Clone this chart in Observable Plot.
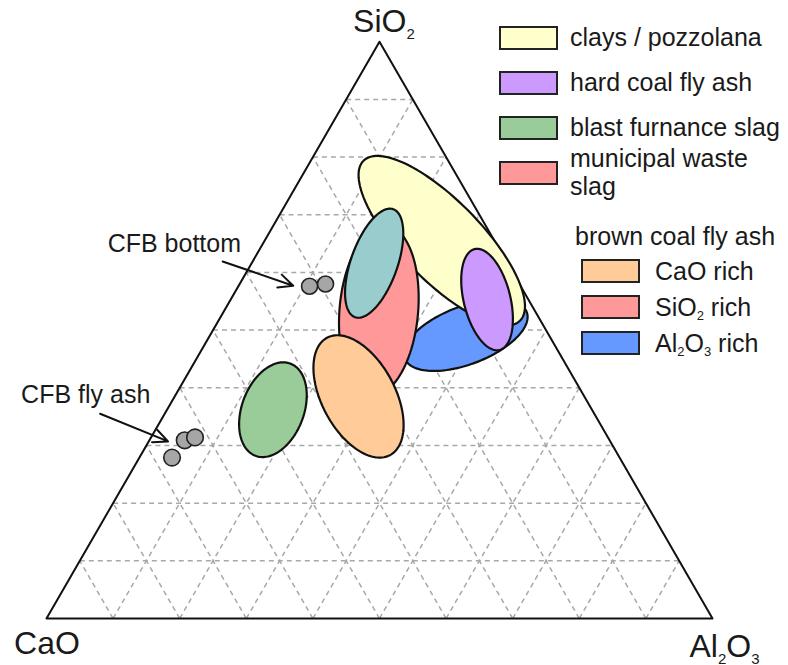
<!DOCTYPE html>
<html><head><meta charset="utf-8">
<script src="https://cdn.jsdelivr.net/npm/d3@7"></script>
<script src="https://cdn.jsdelivr.net/npm/@observablehq/plot@0.6"></script>
<style>
body{margin:0;background:#fff;font-family:"Liberation Sans",Arial,sans-serif;}
#wrap{position:relative;width:788px;height:665px;overflow:hidden;background:#fff}
#wrap svg{position:absolute;left:0;top:0}
.row{position:absolute;display:flex;align-items:center;height:60px}
.txt{position:absolute;font-size:25px;line-height:28px;color:#1a1a1a;white-space:nowrap}
.box{position:absolute;width:59px;height:24px;box-sizing:border-box;border:2px solid #222}
sub{font-size:13px;vertical-align:-4px;line-height:0}
</style></head><body><div id="wrap"></div>
<script>
// ---- data (ternary compositions in %, CaO / Al2O3 / SiO2) ----
const vertexLabels = ["CaO", "Al2O3", "SiO2"];
const vertexCaO   = [100, 0, 0];
const vertexAl2O3 = [0, 100, 0];
const vertexSiO2  = [0, 0, 100];
const gridLevels = [10, 20, 30, 40, 50, 60, 70, 80, 90];

// ellipse regions, in drawing order
const regionNames  = ["brown coal fly ash, Al2O3 rich", "clays / pozzolana", "hard coal fly ash", "municipal waste slag / SiO2 rich", "teal region", "brown coal fly ash, CaO rich", "blast furnance slag"];
const regionColors = ["#6699ff", "#ffffcc", "#cc99ff", "#ff9999", "#99cccc", "#ffcc99", "#99cc99"];
const regionCaO    = [12.5, 7.9, 6.2, 23.5, 19.9, 33.9, 47.9];
const regionAl2O3  = [38.4, 26.6, 38.5, 23.2, 18.4, 27.6, 15.9];
const regionSiO2   = [49.1, 65.5, 55.3, 53.4, 61.6, 38.5, 36.2];
const regionMajor  = [9.8, 16.8, 7.8, 12.8, 8.6, 10.0, 7.4];   // semi-axis, % of side
const regionMinor  = [4.35, 6.0, 3.5, 5.9, 3.5, 5.5, 4.65];
const regionAngle  = [20.8, -45.7, 103.9, 85, 70.5, 118.2, 69.2]; // degrees

// CFB samples
const cfbBottomCaO = [31.8, 29.1], cfbBottomAl2O3 = [10.7, 12.9], cfbBottomSiO2 = [57.6, 58.0];
const cfbFlyCaO = [67.2, 63.9, 61.9], cfbFlyAl2O3 = [4.9, 5.3, 6.6], cfbFlySiO2 = [27.9, 30.9, 31.4];

// annotations (arrow start -> arrow end)
const annotLabels = ["CFB bottom", "CFB fly ash"];
const annotStartCaO = [42.6, 74.1], annotStartAl2O3 = [-4.5, -9.7], annotStartSiO2 = [61.9, 35.5];
const annotEndCaO = [34.0, 66.3], annotEndAl2O3 = [8.2, 2.9], annotEndSiO2 = [57.7, 30.7];

// legends
const legendNames  = ["clays / pozzolana", "hard coal fly ash", "blast furnance slag", "municipal waste<br>slag"];
const legendColors = ["#ffffcc", "#cc99ff", "#99cc99", "#ff9999"];
const legend2Title = "brown coal fly ash";
const legend2Names = ["CaO rich", "SiO2 rich", "Al2O3 rich"];
const legend2Colors = ["#ffcc99", "#ff9999", "#6699ff"];

// ---- helpers ----
const H = Math.sqrt(3) / 2;
const tx = (al, si) => (al + si / 2) / 100;
const ty = (si) => si / 100 * H;

const vertices = vertexLabels.map((l, i) => ({label: l, x: tx(vertexAl2O3[i], vertexSiO2[i]), y: ty(vertexSiO2[i])}));

const grid = [];
for (const k of gridLevels) {
  // constant SiO2
  grid.push({x1: tx(0, k), y1: ty(k), x2: tx(100 - k, k), y2: ty(k)});
  // constant Al2O3
  grid.push({x1: tx(k, 0), y1: ty(0), x2: tx(k, 100 - k), y2: ty(100 - k)});
  // constant CaO
  grid.push({x1: tx(100 - k, 0), y1: ty(0), x2: tx(0, 100 - k), y2: ty(100 - k)});
}

function ellipsePoints(i) {
  const cx = tx(regionAl2O3[i], regionSiO2[i]), cy = ty(regionSiO2[i]);
  const a = regionMajor[i] / 100, b = regionMinor[i] / 100, phi = regionAngle[i] * Math.PI / 180;
  const pts = [];
  for (let j = 0; j < 144; j++) {
    const t = j / 144 * 2 * Math.PI;
    const u = a * Math.cos(t), v = b * Math.sin(t);
    pts.push({x: cx + u * Math.cos(phi) - v * Math.sin(phi), y: cy + u * Math.sin(phi) + v * Math.cos(phi)});
  }
  return pts;
}

const cfbBottom = cfbBottomCaO.map((c, i) => ({x: tx(cfbBottomAl2O3[i], cfbBottomSiO2[i]), y: ty(cfbBottomSiO2[i])}));
const cfbFly = cfbFlyCaO.map((c, i) => ({x: tx(cfbFlyAl2O3[i], cfbFlySiO2[i]), y: ty(cfbFlySiO2[i])}));
const annots = annotLabels.map((l, i) => ({
  label: l,
  x1: tx(annotStartAl2O3[i], annotStartSiO2[i]), y1: ty(annotStartSiO2[i]),
  x2: tx(annotEndAl2O3[i], annotEndSiO2[i]), y2: ty(annotEndSiO2[i])
}));

const left = 46, right = 712, base = 618, side = right - left;

const marks = [
  Plot.link(grid, {x1: "x1", y1: "y1", x2: "x2", y2: "y2", stroke: "#a8a8a8", strokeWidth: 1.5, strokeDasharray: "5,4"}),
  Plot.line(vertices, {x: "x", y: "y", curve: "linear-closed", stroke: "#111", strokeWidth: 2})
];
regionNames.forEach((n, i) => {
  marks.push(Plot.line(ellipsePoints(i), {x: "x", y: "y", curve: "linear-closed", fill: regionColors[i], stroke: "#111", strokeWidth: 2.2}));
});
marks.push(
  Plot.dot(cfbBottom, {x: "x", y: "y", r: 8, fill: "#a6a6a6", stroke: "#222", strokeWidth: 1.6}),
  Plot.dot(cfbFly, {x: "x", y: "y", r: 8.3, fill: "#a6a6a6", stroke: "#222", strokeWidth: 1.6}),
  Plot.arrow(annots, {x1: "x1", y1: "y1", x2: "x2", y2: "y2", stroke: "#111", strokeWidth: 2, headLength: 12, headAngle: 50}),
  Plot.text([annots[0]], {x: "x1", y: "y1", text: "label", textAnchor: "start", lineAnchor: "bottom", dx: -115, dy: -9, fontSize: 25, fill: "#1a1a1a"}),
  Plot.text([annots[1]], {x: "x1", y: "y1", text: "label", textAnchor: "start", lineAnchor: "bottom", dx: -79, dy: -11, fontSize: 25, fill: "#1a1a1a"}),
  Plot.text([vertices[0]], {x: "x", y: "y", text: "label", textAnchor: "middle", lineAnchor: "bottom", dx: 0.5, dy: 35, fontSize: 32, fill: "#1a1a1a"}),
  Plot.text([vertices[1]], {x: "x", y: "y", text: "label", textAnchor: "middle", lineAnchor: "bottom", dx: 12, dy: 38.5, fontSize: 32, fill: "#1a1a1a"}),
  Plot.text([vertices[2]], {x: "x", y: "y", text: "label", textAnchor: "middle", lineAnchor: "bottom", dx: 4.4, dy: -9.5, fontSize: 32, fill: "#1a1a1a"})
);

const svg = Plot.plot({
  width: 788, height: 665, margin: 0,
  x: {domain: [0, 1], range: [left, right], axis: null},
  y: {domain: [0, H], range: [base, base - side * H], axis: null},
  style: {fontFamily: "'Liberation Sans', Arial, sans-serif", background: "transparent", overflow: "visible"},
  marks
});

// subscripts for chemical formulas
svg.querySelectorAll("text").forEach(t => {
  const s = t.textContent;
  if (!/\d/.test(s) || t.children.length) return;
  const parts = s.match(/\d+|\D+/g);
  t.textContent = "";
  let shifted = false;
  for (const p of parts) {
    const sp = document.createElementNS("http://www.w3.org/2000/svg", "tspan");
    sp.textContent = p;
    if (/\d/.test(p)) { sp.setAttribute("font-size", "15"); sp.setAttribute("dy", "6.5"); shifted = true; }
    else if (shifted) { sp.setAttribute("dy", "-6.5"); shifted = false; }
    t.appendChild(sp);
  }
});

const wrap = document.getElementById("wrap");
wrap.appendChild(svg);

const fmt = s => s.replace(/(\d+)/g, "<sub>$1</sub>");
function addRow(boxLeft, textLeft, center, color, html) {
  const b = document.createElement("div");
  b.className = "box";
  b.style.left = boxLeft + "px"; b.style.top = (center - 12) + "px"; b.style.background = color;
  wrap.appendChild(b);
  const r = document.createElement("div");
  r.className = "row";
  r.style.left = textLeft + "px"; r.style.top = (center - 30.5) + "px";
  r.innerHTML = `<div style="font-size:25px;line-height:28px;color:#1a1a1a;white-space:nowrap">${html}</div>`;
  wrap.appendChild(r);
}
legendNames.forEach((n, i) => addRow(499, 570, 37.5 + i * 45, legendColors[i], n));
const t2 = document.createElement("div");
t2.className = "txt"; t2.style.left = "575px"; t2.style.top = "222.4px"; t2.textContent = legend2Title;
wrap.appendChild(t2);
legend2Names.forEach((n, i) => addRow(581, 655, 271 + i * 36, legend2Colors[i], fmt(n)));
</script></body></html>
